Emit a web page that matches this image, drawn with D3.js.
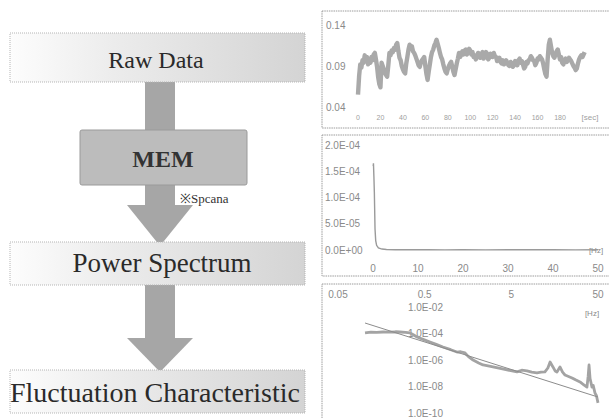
<!DOCTYPE html>
<html>
<head>
<meta charset="utf-8">
<script src="https://cdn.jsdelivr.net/npm/d3@7"></script>
<style>
  body { margin: 0; background: #fff; }
  svg { display: block; }
</style>
</head>
<body>
<div id="chart"></div>
<script>
// #####################################################
// Data
//
var steps = ["Raw Data", "MEM", "Power Spectrum", "Fluctuation Characteristic"];
var memNote = "\u203bSpcana";

// raw signal [sec, value]
var rawSeries = [
  [0,.055],[1,.078],[2,.092],[3,.088],[4,.097],[5,.094],[6,.103],[7,.098],[8,.101],[9,.092],
  [10,.096],[11,.094],[12,.101],[13,.097],[14,.104],[15,.106],[16,.098],[17,.089],[18,.076],[19,.068],
  [20,.064],[21,.094],[22,.090],[23,.086],[24,.081],[25,.079],[26,.077],[27,.091],[28,.106],[29,.103],
  [30,.109],[31,.107],[32,.112],[33,.110],[34,.116],[35,.118],[36,.108],[37,.100],[38,.097],[39,.090],
  [40,.086],[41,.083],[42,.081],[43,.093],[44,.101],[45,.110],[46,.116],[47,.112],[48,.114],[49,.108],
  [50,.106],[51,.103],[52,.099],[53,.095],[54,.091],[55,.089],[56,.094],[57,.097],[58,.099],[59,.101],
  [60,.090],[61,.080],[62,.073],[63,.083],[64,.092],[65,.101],[66,.107],[67,.110],[68,.115],[69,.118],
  [70,.122],[71,.117],[72,.112],[73,.106],[74,.101],[75,.098],[76,.092],[77,.087],[78,.083],[79,.081],
  [80,.086],[81,.090],[82,.093],[83,.095],[84,.089],[85,.083],[86,.079],[87,.086],[88,.093],[89,.099],
  [90,.106],[91,.101],[92,.104],[93,.108],[94,.104],[95,.109],[96,.110],[97,.104],[98,.106],[99,.111],
  [100,.109],[101,.104],[102,.107],[103,.101],[104,.103],[105,.098],[106,.101],[107,.106],[108,.105],[109,.100],
  [110,.103],[111,.107],[112,.099],[113,.102],[114,.107],[115,.105],[116,.098],[117,.100],[118,.105],[119,.104],
  [120,.101],[121,.106],[122,.102],[123,.101],[124,.096],[125,.098],[126,.100],[127,.095],[128,.093],[129,.097],
  [130,.092],[131,.093],[132,.097],[133,.094],[134,.091],[135,.090],[136,.095],[137,.093],[138,.089],[139,.091],
  [140,.096],[141,.095],[142,.091],[143,.097],[144,.099],[145,.094],[146,.096],[147,.092],[148,.087],[149,.089],
  [150,.095],[151,.093],[152,.097],[153,.098],[154,.102],[155,.100],[156,.097],[157,.096],[158,.091],[159,.094],
  [160,.099],[161,.098],[162,.102],[163,.100],[164,.098],[165,.093],[166,.086],[167,.080],[168,.077],[169,.098],
  [170,.116],[171,.122],[172,.114],[173,.106],[174,.102],[175,.100],[176,.104],[177,.108],[178,.110],[179,.104],
  [180,.098],[181,.101],[182,.094],[183,.092],[184,.097],[185,.099],[186,.095],[187,.097],[188,.100],[189,.098],
  [190,.096],[191,.093],[192,.090],[193,.088],[194,.085],[195,.087],[196,.093],[197,.098],[198,.101],[199,.103],
  [200,.101],[201,.104],[202,.107]
];
var rawXTicks = [0, 20, 40, 60, 80, 100, 120, 140, 160, 180];
var rawYTicks = [0.04, 0.09, 0.14];

// MEM power spectrum, linear axes [Hz, power]
var specSeries = [
  [0.05,1.6e-4],[0.1,1.65e-4],[0.2,1.4e-4],[0.3,1.1e-4],[0.45,4e-5],[0.6,1.8e-5],[0.8,9e-6],
  [1.2,4e-6],[2,1.8e-6],[3,9e-7],[5,5e-7],[8,4e-7],[12,6e-7],[16,3e-7],[20,5e-7],[25,3e-7],
  [30,6e-7],[35,4e-7],[40,5e-7],[45,3e-7],[50,4e-7]
];
var specXTicks = [0, 10, 20, 30, 40, 50];
var specYTicks = [0, 5e-5, 1e-4, 1.5e-4, 2e-4];

// log-log spectrum [Hz, power] and its fitted line
var logSeries = [
  [0.1025,1.1e-4],[0.12,1.25e-4],[0.14,1.2e-4],[0.165,1.3e-4],[0.2,1.25e-4],[0.23,1.35e-4],[0.259,1.3e-4],
  [0.3,1.2e-4],[0.339,1.1e-4],[0.37,8e-5],[0.408,5.5e-5],[0.48,3.6e-5],[0.576,2.3e-5],[0.68,1.5e-5],
  [0.813,9.5e-6],[1.0,6e-6],[1.18,4e-6],[1.3,4.2e-6],[1.46,3.4e-6],[1.6,1.8e-6],[1.81,1e-6],[2.1,6e-7],
  [2.36,4.2e-7],[2.7,3.6e-7],[3.07,3e-7],[3.6,2.4e-7],[4.46,1.8e-7],[5.1,1.5e-7],[5.81,1.26e-7],
  [6.6,1.7e-7],[7.58,1.5e-7],[8.6,1.2e-7],[9.88,1.05e-7],[11,1.2e-7],[12.2,1.26e-7],[13.2,2.5e-7],
  [14.0,7e-7],[15.1,3e-7],[16.0,1.5e-7],[16.8,1.26e-7],[18.2,3e-7],[19.5,1.2e-7],[20.8,7.4e-8],
  [22.5,6e-8],[25.1,4.4e-8],[27.5,3.2e-8],[31.0,2.2e-8],[34,1.4e-8],[37.3,9e-9],[38.5,6e-8],
  [39.4,4.2e-7],[40.5,4e-8],[42.6,9e-9],[44,1.2e-8],[46.2,3.2e-9],[48,2e-9],[50,5.8e-10]
];
var fitLine = [[0.1025, 6.2e-4], [50, 1.6e-9]];
var logXTicks = [0.05, 0.5, 5, 50];
var logYTicks = [1e-2, 1e-4, 1e-6, 1e-8, 1e-10];

// #####################################################
// Helpers
//
function sci (v) {
  var s = v.toExponential(1).split("e");
  var e = +s[1];
  return s[0] + "E" + (e < 0 ? "-" : "+") + String(Math.abs(e)).padStart(2, "0");
}

var svg = d3.select("#chart").append("svg")
    .attr("width", 609)
    .attr("height", 418);

var defs = svg.append("defs");
var grad = defs.append("linearGradient").attr("id", "boxfill");
grad.append("stop").attr("offset", "0%").attr("stop-color", "#fdfdfd");
grad.append("stop").attr("offset", "35%").attr("stop-color", "#ececec");
grad.append("stop").attr("offset", "100%").attr("stop-color", "#d4d4d4");

// #####################################################
// Flow diagram (left)
//
var serif = "'Liberation Serif', 'Times New Roman', serif";
var shaftColor = "#a6a6a6";

// arrows behind boxes
var arrows = [
  {top: 82, headTop: 205, tip: 246},
  {top: 285, headTop: 338, tip: 372}
];
arrows.forEach(function (a) {
  svg.append("rect")
      .attr("x", 145).attr("y", a.top)
      .attr("width", 30).attr("height", a.headTop - a.top + 1)
      .style("fill", shaftColor);
  svg.append("path")
      .attr("d", d3.line()([[127, a.headTop], [193, a.headTop], [160, a.tip]]) + "Z")
      .style("fill", shaftColor);
});

var boxes = [
  {x: 10, y: 33, w: 295, h: 49, size: 24, tx: 156, ty: 68},
  {x: 10, y: 242, w: 295, h: 43, size: 27, tx: 162, ty: 272},
  {x: 10, y: 370, w: 295, h: 43, size: 28, tx: 155, ty: 402}
];
var boxText = [steps[0], steps[2], steps[3]];
boxes.forEach(function (b, i) {
  svg.append("rect")
      .attr("x", b.x).attr("y", b.y)
      .attr("width", b.w).attr("height", b.h)
      .style("fill", "url(#boxfill)")
      .style("stroke", "#b5b5b5")
      .style("stroke-dasharray", "1,1");
  svg.append("text")
      .attr("x", b.tx).attr("y", b.ty)
      .attr("text-anchor", "middle")
      .style("font-family", serif)
      .style("font-size", b.size + "px")
      .style("fill", "#2a2a2a")
      .text(boxText[i]);
});

// MEM box
svg.append("rect")
    .attr("x", 80).attr("y", 130)
    .attr("width", 167).attr("height", 55)
    .attr("rx", 2)
    .style("fill", "#bcbcbc")
    .style("stroke", "#9a9a9a");
svg.append("text")
    .attr("x", 163).attr("y", 167)
    .attr("text-anchor", "middle")
    .style("font-family", serif)
    .style("font-weight", "bold")
    .style("font-size", "24px")
    .style("fill", "#333")
    .text(steps[1]);
svg.append("text")
    .attr("x", 180).attr("y", 203)
    .style("font-family", serif)
    .style("font-size", "13px")
    .style("fill", "#333")
    .text(memNote);

// #####################################################
// Panels (right)
//
var labelFont = "'Liberation Sans', Arial, sans-serif";
var labelColor = "#8a8a8a";

function frame (y, h) {
  svg.append("rect")
      .attr("x", 322).attr("y", y)
      .attr("width", 300).attr("height", h)
      .style("fill", "none")
      .style("stroke", "#9c9c9c")
      .style("stroke-dasharray", "1.5,0.8");
}

function label (x, y, txt, size, anchor, color) {
  svg.append("text")
      .attr("x", x).attr("y", y)
      .attr("dy", "0.35em")
      .attr("text-anchor", anchor || "start")
      .style("font-family", labelFont)
      .style("font-size", (size || 10) + "px")
      .style("fill", color || labelColor)
      .text(txt);
}

// --- panel 1 : raw data
frame(11, 117);
var x1 = d3.scaleLinear().domain([0, 180]).range([358, 560]);
var y1 = d3.scaleLinear().domain([0.04, 0.14]).range([107, 25]);
rawYTicks.forEach(function (v) { label(326, y1(v), d3.format(".2f")(v), 10); });
rawXTicks.forEach(function (v) { label(x1(v), 118, v, 7, "middle", "#a0a0a0"); });
label(590, 117, "[sec]", 8, "middle", "#a0a0a0");
svg.append("path")
    .datum(rawSeries)
    .attr("d", d3.line().x(function (d) { return x1(d[0]); }).y(function (d) { return y1(d[1]); }))
    .style("fill", "none")
    .style("stroke", "#a9a9a9")
    .style("stroke-width", 4.4)
    .style("stroke-linejoin", "round");

// --- panel 2 : power spectrum, linear
frame(135, 141);
var x2 = d3.scaleLinear().domain([0, 50]).range([373, 598]);
var y2 = d3.scaleLinear().domain([0, 2e-4]).range([250, 145]);
specYTicks.forEach(function (v) { label(325, y2(v), sci(v), 10); });
specXTicks.forEach(function (v) { label(x2(v), 268, v, 10, "middle"); });
label(596, 250, "[Hz]", 8, "middle");
svg.append("path")
    .datum(specSeries)
    .attr("d", d3.line().x(function (d) { return x2(d[0]); }).y(function (d) { return y2(d[1]); }))
    .style("fill", "none")
    .style("stroke", "#9a9a9a")
    .style("stroke-width", 1.4);

// --- panel 3 : log-log spectrum
frame(284, 150);
var x3 = d3.scaleLog().domain([0.05, 50]).range([338, 598]);
var y3 = d3.scaleLog().domain([1e-10, 1e-2]).range([413, 307]);
logXTicks.forEach(function (v) { label(x3(v), 294, v, 10, "middle"); });
logYTicks.forEach(function (v) { label(443, y3(v), sci(v), 10, "end"); });
label(592, 313, "[Hz]", 8, "middle");
var line3 = d3.line().x(function (d) { return x3(d[0]); }).y(function (d) { return y3(d[1]); });
svg.append("path")
    .datum(logSeries)
    .attr("d", line3)
    .style("fill", "none")
    .style("stroke", "#a3a3a3")
    .style("stroke-width", 2.8)
    .style("stroke-linejoin", "round");
svg.append("path")
    .datum(fitLine)
    .attr("d", line3)
    .style("fill", "none")
    .style("stroke", "#8c8c8c")
    .style("stroke-width", 1);
</script>
</body>
</html>
